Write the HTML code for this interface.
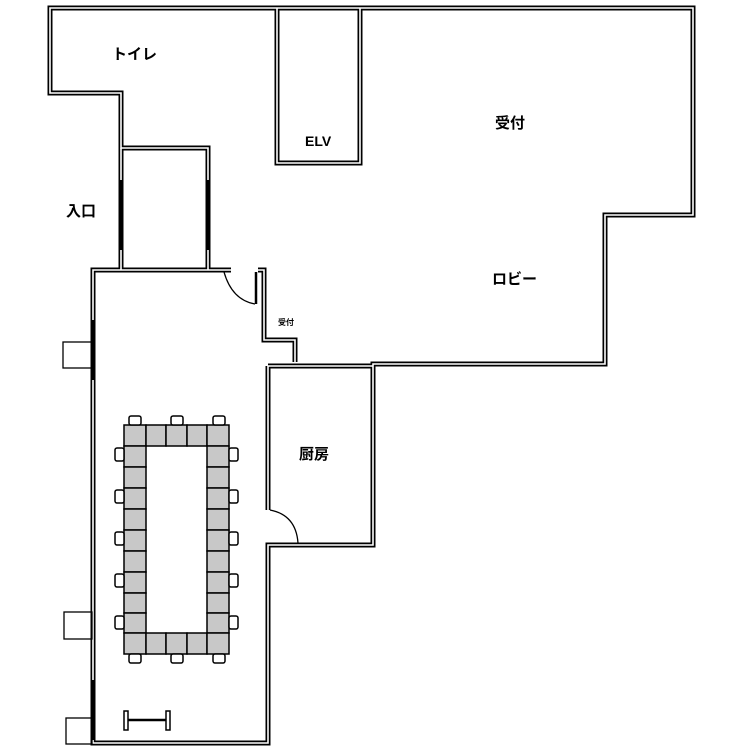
<!DOCTYPE html>
<html><head><meta charset="utf-8"><style>
html,body{margin:0;padding:0;background:#fff;}
svg{display:block;}
text{font-family:"Liberation Sans","Noto Sans CJK JP",sans-serif;font-weight:bold;fill:#000;}
</style></head><body>
<svg width="750" height="750" viewBox="0 0 750 750" xmlns="http://www.w3.org/2000/svg">
<g fill="none" stroke="#000" stroke-width="5" stroke-linejoin="miter">
<path id="w1" d="M231,270 L93,270 L93,743 L268,743 L268,545 L373,545 L373,364 L605,364 L605,215 L693,215 L693,8 L50,8 L50,93 L121,93 L121,148 L208,148 L208,270"/>
<path d="M121,148 L121,270"/>
<path d="M277,8 L277,163 L360,163 L360,8"/>
<path d="M258,270 L264,270 L264,340 L295,340 L295,362"/>
<path d="M268,366 L373,366"/>
<path d="M268,366 L268,510"/>
</g>
<g fill="none" stroke="#fff" stroke-width="1.6">
<path d="M231,270 L93,270 L93,743 L268,743 L268,545 L373,545 L373,364 L605,364 L605,215 L693,215 L693,8 L50,8 L50,93 L121,93 L121,148 L208,148 L208,270"/>
<path d="M121,148 L121,270"/>
<path d="M277,8 L277,163 L360,163 L360,8"/>
<path d="M258,270 L264,270 L264,340 L295,340 L295,362"/>
<path d="M268,366 L373,366"/>
<path d="M268,366 L268,510"/>
</g>
<!-- door lines solid -->
<g stroke="#000" stroke-width="2.5">
<line x1="121" y1="180" x2="121" y2="250"/>
<line x1="208" y1="180" x2="208" y2="250"/>
<line x1="93" y1="320" x2="93" y2="380"/>
<line x1="93" y1="680" x2="93" y2="740"/>
<line x1="256" y1="272" x2="256" y2="304"/>
</g>
<g fill="none" stroke="#000" stroke-width="1.3">
<path d="M224,272 Q232,300 255,304"/>
<path d="M270,510 Q296,515 298,543"/>
<rect x="63" y="342" width="29" height="26"/>
<rect x="64" y="612" width="28" height="27"/>
<rect x="66" y="718" width="26" height="26"/>
</g>
<!-- dumbbell -->
<g fill="none" stroke="#000" stroke-width="1.5">
<rect x="124" y="711" width="4" height="19"/>
<rect x="166" y="711" width="4" height="19"/>
<line x1="128" y1="720" x2="166" y2="720" stroke-width="2.5"/>
</g>
<!-- table -->
<g fill="#c8c8c8" stroke="#000" stroke-width="1.5">
<rect x="124" y="425" width="22" height="21"/><rect x="146" y="425" width="20" height="21"/><rect x="166" y="425" width="21" height="21"/><rect x="187" y="425" width="20" height="21"/><rect x="207" y="425" width="22" height="21"/>
<rect x="124" y="446" width="22" height="21"/><rect x="124" y="467" width="22" height="21"/><rect x="124" y="488" width="22" height="21"/><rect x="124" y="509" width="22" height="21"/><rect x="124" y="530" width="22" height="21"/><rect x="124" y="551" width="22" height="21"/><rect x="124" y="572" width="22" height="21"/><rect x="124" y="593" width="22" height="20"/><rect x="124" y="613" width="22" height="20"/>
<rect x="207" y="446" width="22" height="21"/><rect x="207" y="467" width="22" height="21"/><rect x="207" y="488" width="22" height="21"/><rect x="207" y="509" width="22" height="21"/><rect x="207" y="530" width="22" height="21"/><rect x="207" y="551" width="22" height="21"/><rect x="207" y="572" width="22" height="21"/><rect x="207" y="593" width="22" height="20"/><rect x="207" y="613" width="22" height="20"/>
<rect x="124" y="633" width="22" height="21"/><rect x="146" y="633" width="20" height="21"/><rect x="166" y="633" width="21" height="21"/><rect x="187" y="633" width="20" height="21"/><rect x="207" y="633" width="22" height="21"/>
</g>
<g fill="#fff" stroke="#000" stroke-width="1.5">
<rect x="129" y="416" width="12" height="9" rx="2"/><rect x="171" y="416" width="12" height="9" rx="2"/><rect x="213" y="416" width="12" height="9" rx="2"/>
<rect x="129" y="654" width="12" height="9" rx="2"/><rect x="171" y="654" width="12" height="9" rx="2"/><rect x="213" y="654" width="12" height="9" rx="2"/>
<rect x="115" y="448" width="9" height="13" rx="2"/><rect x="115" y="490" width="9" height="13" rx="2"/><rect x="115" y="532" width="9" height="13" rx="2"/><rect x="115" y="574" width="9" height="13" rx="2"/><rect x="115" y="616" width="9" height="13" rx="2"/>
<rect x="229" y="448" width="9" height="13" rx="2"/><rect x="229" y="490" width="9" height="13" rx="2"/><rect x="229" y="532" width="9" height="13" rx="2"/><rect x="229" y="574" width="9" height="13" rx="2"/><rect x="229" y="616" width="9" height="13" rx="2"/>
</g>
<text x="112" y="59" font-size="15">トイレ</text>
<text x="305" y="146" font-size="14">ELV</text>
<text x="495" y="128" font-size="15">受付</text>
<text x="492" y="284" font-size="15">ロビー</text>
<text x="66" y="216" font-size="15">入口</text>
<text x="299" y="459" font-size="15">厨房</text>
<text x="278" y="325" font-size="8" font-weight="normal">受付</text>
</svg>
</body></html>
